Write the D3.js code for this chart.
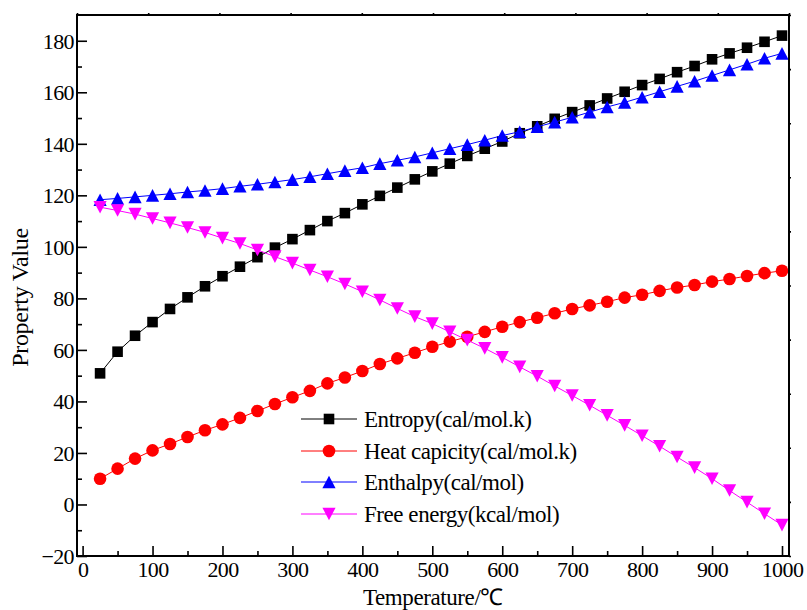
<!DOCTYPE html>
<html>
<head>
<meta charset="utf-8">
<script src="https://cdn.jsdelivr.net/npm/d3@7"></script>
<style>
  html, body { margin: 0; padding: 0; background: #fff; }
  svg { display: block; }
  text { font-family: "Liberation Serif", "Times New Roman", serif; fill: #000; }
</style>
</head>
<body>
<svg id="chart" width="807" height="610"></svg>
<script>
// ---- data ----
const temperatures = [25, 50, 75, 100, 125, 150, 175, 200, 225, 250, 275, 300, 325, 350, 375, 400, 425, 450, 475, 500,
  525, 550, 575, 600, 625, 650, 675, 700, 725, 750, 775, 800, 825, 850, 875, 900, 925, 950, 975, 1000];
const entropy = [50.9, 59.3, 65.5, 70.8, 75.9, 80.4, 84.7, 88.6, 92.3, 96.0, 99.7, 103.0, 106.5, 110.0, 113.1, 116.5, 119.8, 123.0, 126.2, 129.3,
  132.3, 135.3, 138.1, 140.9, 144.1, 146.8, 149.7, 152.3, 154.9, 157.6, 160.2, 162.8, 165.2, 167.8, 170.2, 172.8, 175.1, 177.3, 179.6, 182.0];
const heatCapacity = [10.0, 13.9, 17.8, 21.0, 23.5, 26.2, 28.8, 31.1, 33.6, 36.3, 39.0, 41.6, 44.1, 47.0, 49.3, 51.8, 54.5, 56.7, 58.9, 61.2,
  63.2, 65.1, 67.0, 69.0, 70.8, 72.5, 74.2, 75.9, 77.3, 78.7, 80.3, 81.4, 82.9, 84.2, 85.2, 86.5, 87.5, 88.7, 89.8, 90.7];
const enthalpy = [118.3, 118.8, 119.4, 120.0, 120.6, 121.3, 121.9, 122.6, 123.5, 124.3, 125.2, 126.1, 127.2, 128.4, 129.6, 130.7, 132.3, 133.6, 134.9, 136.5,
  138.1, 139.7, 141.4, 143.2, 144.7, 146.6, 148.4, 150.3, 152.3, 154.3, 156.1, 158.1, 160.2, 162.3, 164.3, 166.5, 168.7, 170.9, 173.2, 175.1];
const freeEnergy = [115.4, 114.1, 112.7, 111.0, 109.3, 107.5, 105.6, 103.4, 101.3, 98.8, 96.2, 93.7, 91.0, 88.4, 85.6, 82.6, 79.4, 76.1, 72.9, 70.2,
  67.0, 63.8, 60.6, 57.1, 53.4, 49.8, 46.0, 42.3, 38.5, 34.6, 30.7, 26.7, 22.6, 18.4, 14.3, 10.0, 5.4, 0.9, -3.6, -8.0];
const seriesNames = ["Entropy(cal/mol.k)", "Heat capicity(cal/mol.k)", "Enthalpy(cal/mol)", "Free energy(kcal/mol)"];
const xTicks = [0, 100, 200, 300, 400, 500, 600, 700, 800, 900, 1000];
const yTicks = [-20, 0, 20, 40, 60, 80, 100, 120, 140, 160, 180];
const xTitle = "Temperature/℃";
const yTitle = "Property Value";

// ---- layout ----
const L = 77, R = 789, T = 15, B = 556;
const svg = d3.select("#chart");

const x = d3.scaleLinear().domain([-8, 1010]).range([L, R]);
const y = d3.scaleLinear().domain([-20, 190]).range([B, T]);

const series = [
  { name: seriesNames[0], values: entropy, color: "#000000", shape: "square" },
  { name: seriesNames[1], values: heatCapacity, color: "#ff0000", shape: "circle" },
  { name: seriesNames[2], values: enthalpy, color: "#0000ff", shape: "up" },
  { name: seriesNames[3], values: freeEnergy, color: "#ff00ff", shape: "down" }
];

function drawMarker(g, shape, color) {
  if (shape === "square") {
    g.append("rect").attr("x", -5.3).attr("y", -5.3).attr("width", 10.6).attr("height", 10.6).attr("fill", color);
  } else if (shape === "circle") {
    g.append("circle").attr("r", 6.3).attr("fill", color);
  } else if (shape === "up") {
    g.append("path").attr("d", "M0,-6.3L6.6,6.3L-6.6,6.3Z").attr("fill", color);
  } else {
    g.append("path").attr("d", "M0,6.3L6.6,-6.3L-6.6,-6.3Z").attr("fill", color);
  }
}

// ---- series ----
const line = d3.line().x(d => x(d[0])).y(d => y(d[1]));
series.forEach(s => {
  const pts = temperatures.map((t, i) => [t, s.values[i]]);
  const g = svg.append("g");
  g.append("path").datum(pts).attr("d", line).attr("fill", "none").attr("stroke", s.color).attr("stroke-width", 1);
  pts.forEach(p => {
    const m = g.append("g").attr("transform", `translate(${x(p[0])},${y(p[1])})`);
    drawMarker(m, s.shape, s.color);
  });
});

// ---- axes ----
const tickFont = 22;
// bottom axis: major + minor inward ticks
const xMinor = d3.range(0, 1001, 50).filter(v => v % 100 !== 0);
const gx = svg.append("g").attr("transform", `translate(0,${B})`);
gx.call(d3.axisBottom(x).tickValues(xTicks).tickSize(-10).tickPadding(5).tickFormat(d3.format("d")));
gx.append("g").call(d3.axisBottom(x).tickValues(xMinor).tickSize(-5).tickFormat(""));
// left axis
const yMinor = d3.range(-10, 190, 20);
const gy = svg.append("g").attr("transform", `translate(${L},0)`);
gy.call(d3.axisLeft(y).tickValues(yTicks).tickSize(-10).tickPadding(3).tickFormat(d3.format("d")));
gy.append("g").call(d3.axisLeft(y).tickValues(yMinor).tickSize(-5).tickFormat(""));
// top & right axes: small outward ticks dividing into 10 parts
const tScale = d3.scaleLinear().domain([0, 10]).range([L, R]);
const rScale = d3.scaleLinear().domain([0, 10]).range([B, T]);
svg.append("g").attr("transform", `translate(0,${T})`)
  .call(d3.axisTop(tScale).ticks(10).tickSize(2).tickFormat(""));
svg.append("g").attr("transform", `translate(${R},0)`)
  .call(d3.axisRight(rScale).ticks(10).tickSize(2).tickFormat(""));

svg.selectAll(".domain").remove();
svg.selectAll(".tick line").attr("stroke", "#000").attr("stroke-width", 1.6);
svg.selectAll(".tick text").attr("font-size", tickFont).attr("letter-spacing", -0.6)
  .style("font-family", '"Liberation Serif", serif');
gy.selectAll(".tick text").attr("dy", "0.34em");

// frame
svg.append("rect").attr("x", L).attr("y", T).attr("width", R - L).attr("height", B - T)
  .attr("fill", "none").attr("stroke", "#000").attr("stroke-width", 2);

// ---- titles ----
svg.append("text").attr("x", (L + R) / 2).attr("y", 605).attr("text-anchor", "middle")
  .attr("font-size", 23).attr("letter-spacing", -0.4).text(xTitle);
svg.append("text").attr("transform", `translate(28,${(T + B) / 2 + 12}) rotate(-90)`)
  .attr("text-anchor", "middle").attr("font-size", 24).attr("letter-spacing", -0.3).text(yTitle);

// ---- legend ----
const legY = [419, 451, 482, 514];
series.forEach((s, i) => {
  const g = svg.append("g").attr("transform", `translate(0,${legY[i]})`);
  g.append("line").attr("x1", 301).attr("x2", 357).attr("stroke", s.color).attr("stroke-width", 1);
  const m = g.append("g").attr("transform", "translate(329,0)");
  drawMarker(m, s.shape, s.color);
  g.append("text").attr("x", 364).attr("y", 8).attr("font-size", 23).attr("letter-spacing", -0.45).text(s.name);
});
</script>
</body>
</html>
